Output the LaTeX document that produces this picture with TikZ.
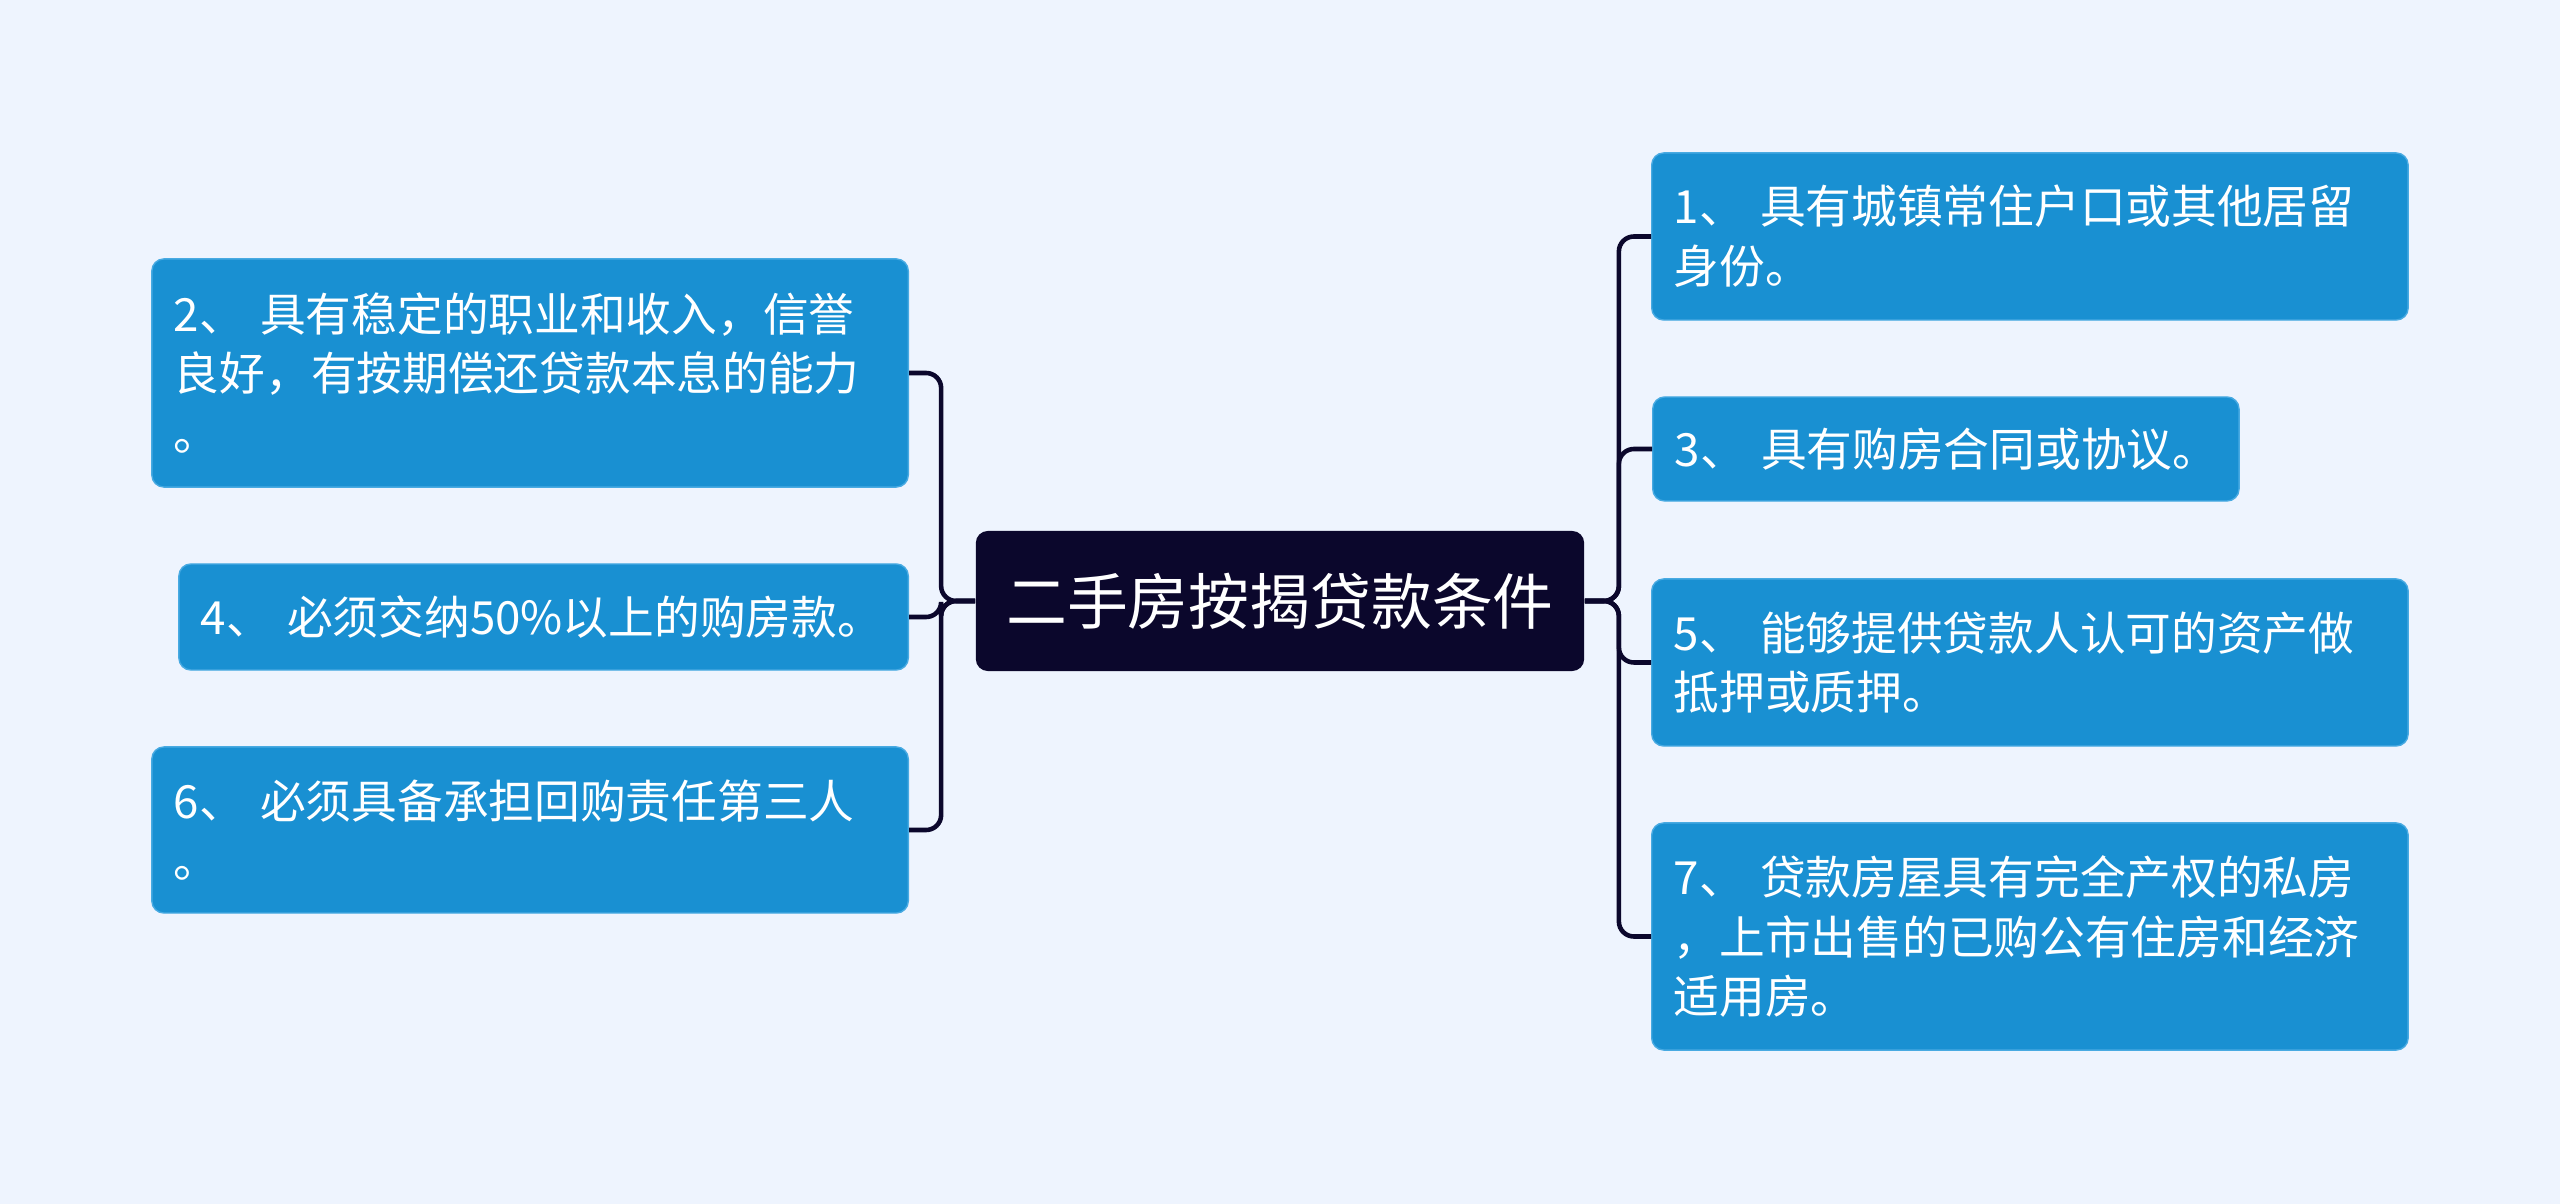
\documentclass[tikz,border=0pt]{standalone}
\usepackage{fontspec}
\setmainfont{Noto Sans CJK SC}
\definecolor{Page}{RGB}{238,244,254}
\definecolor{Leaf}{RGB}{25,144,210}
\definecolor{LeafEdge}{RGB}{72,170,226}
\definecolor{Root}{RGB}{11,7,44}

\begin{document}
\begin{tikzpicture}[x=0.01cm,y=-0.01cm,
  rootbox/.style={fill=Root,text=white,rounded corners=0.12cm,minimum width=6.08cm,
    minimum height=1.4cm,inner sep=0pt,font=\fontsize{17.3}{20}\selectfont},
  leaf/.style={fill=Leaf,draw=LeafEdge,line width=0.4pt,text=white,rounded corners=0.12cm,
    align=left,inner xsep=0.22cm,inner ysep=0pt,font=\fontsize{13}{17}\selectfont},
  link/.style={draw=Root,line width=1.3pt,rounded corners=0.15cm}]
  \fill[Page] (0,0) rectangle (2560,1204);
  \useasboundingbox (0,0) rectangle (2560,1204);

  \node[rootbox] (root) at (1280,601) {二手房按揭贷款条件};

  % right side
  \node[leaf,anchor=west,text width=7.12cm,minimum height=1.67cm] (c1) at (1651,236.5)
    {1、 具有城镇常住户口或其他居留\\身份。};
  \node[leaf,anchor=west,text width=5.42cm,minimum height=1.04cm] (c3) at (1652,449)
    {\mbox{3、 具有购房合同或协议。}};
  \node[leaf,anchor=west,text width=7.12cm,minimum height=1.67cm] (c5) at (1651,662.5)
    {5、 能够提供贷款人认可的资产做\\抵押或质押。};
  \node[leaf,anchor=west,text width=7.12cm,minimum height=2.27cm] (c7) at (1651,936.5)
    {7、 贷款房屋具有完全产权的私房\\，上市出售的已购公有住房和经济\\适用房。};

  % left side
  \node[leaf,anchor=east,text width=7.12cm,minimum height=2.28cm] (c2) at (909,373)
    {2、 具有稳定的职业和收入，信誉\\良好，有按期偿还贷款本息的能力\\。};
  \node[leaf,anchor=east,text width=6.85cm,minimum height=1.06cm] (c4) at (909,617)
    {\mbox{4、 必须交纳50\%以上的购房款。}};
  \node[leaf,anchor=east,text width=7.12cm,minimum height=1.66cm] (c6) at (909,830)
    {6、 必须具备承担回购责任第三人\\。};

  \foreach \c in {c1,c3,c5,c7}
    \draw[link] (root.east) -- ++(34,0) |- (\c.west);
  \foreach \c in {c2,c4,c6}
    \draw[link] (root.west) -- ++(-34,0) |- (\c.east);
\end{tikzpicture}
\end{document}
